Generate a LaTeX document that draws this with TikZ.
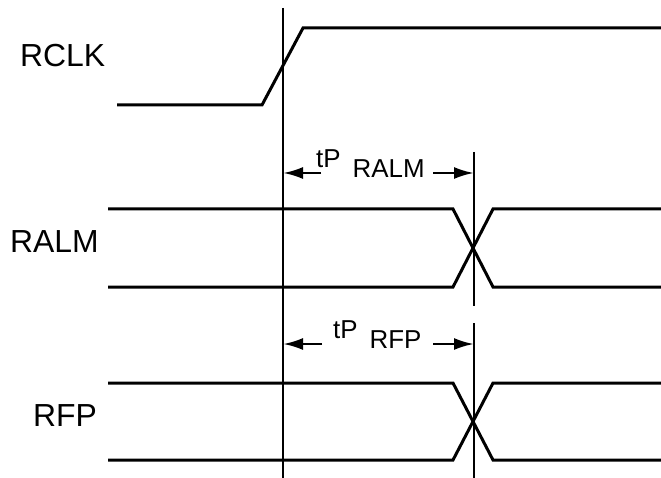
\documentclass[tikz,border=0pt]{standalone}
\usepackage{fontspec}
\setmainfont{Liberation Sans}
\usetikzlibrary{arrows.meta,calc}

\tikzset{
    sig/.style={line width=3bp, line join=miter},
    refline/.style={line width=2bp},
    dimarrow/.style={-{Latex[length=20bp,width=12bp]}, line width=2.6bp},
    sname/.style={anchor=base west, inner sep=0pt, font=\fontsize{32}{38}\selectfont},
    tlabel/.style={anchor=base west, inner sep=0pt, font=\fontsize{26}{30}\selectfont}
}

\begin{document}
\begin{tikzpicture}[x=1bp, y=-1bp]
    \useasboundingbox (0,0) rectangle (661,478);

    % Reference points for the clock edge and the output transitions
    \coordinate (Edge) at (283, 0);
    \coordinate (Xing) at (474, 0);

    % Signal names
    \node[sname] (RCLK) at (20, 67) {RCLK};
    \node[sname] (RALM) at (10, 253) {RALM};
    \node[sname] (RFP) at (33, 426) {RFP};

    % RCLK rising edge
    \draw[sig] (117, 105) -- (262, 105) -- (303, 28) -- (661, 28);

    % RALM transition
    \draw[sig] (108, 209) -- (453, 209) -- (493, 287) -- (661, 287);
    \draw[sig] (108, 287) -- (453, 287) -- (493, 209) -- (661, 209);

    % RFP transition
    \draw[sig] (108, 383) -- (453, 383) -- (493, 460) -- (661, 460);
    \draw[sig] (108, 460) -- (453, 460) -- (493, 383) -- (661, 383);

    % Vertical reference lines
    \draw[refline] ($(Edge) + (0, 8)$) -- ($(Edge) + (0, 478)$);
    \draw[refline] ($(Xing) + (0, 152)$) -- ($(Xing) + (0, 306)$);
    \draw[refline] ($(Xing) + (0, 323)$) -- ($(Xing) + (0, 478)$);

    % Propagation delay RALM
    \node[tlabel] (tRALM) at (316, 168) {tP\hspace{12bp}\raisebox{-10bp}{RALM}};
    \coordinate (aRALM) at (321, 173);
    \coordinate (bRALM) at (433, 173);
    \draw[dimarrow] (aRALM) -- (Edge |- aRALM);
    \draw[dimarrow] (bRALM) -- (Xing |- bRALM);

    % Propagation delay RFP
    \node[tlabel] (tRFP) at (333, 338) {tP\hspace{12bp}\raisebox{-10bp}{RFP}};
    \coordinate (aRFP) at (322, 344);
    \coordinate (bRFP) at (433, 344);
    \draw[dimarrow] (aRFP) -- (Edge |- aRFP);
    \draw[dimarrow] (bRFP) -- (Xing |- bRFP);
\end{tikzpicture}
\end{document}
